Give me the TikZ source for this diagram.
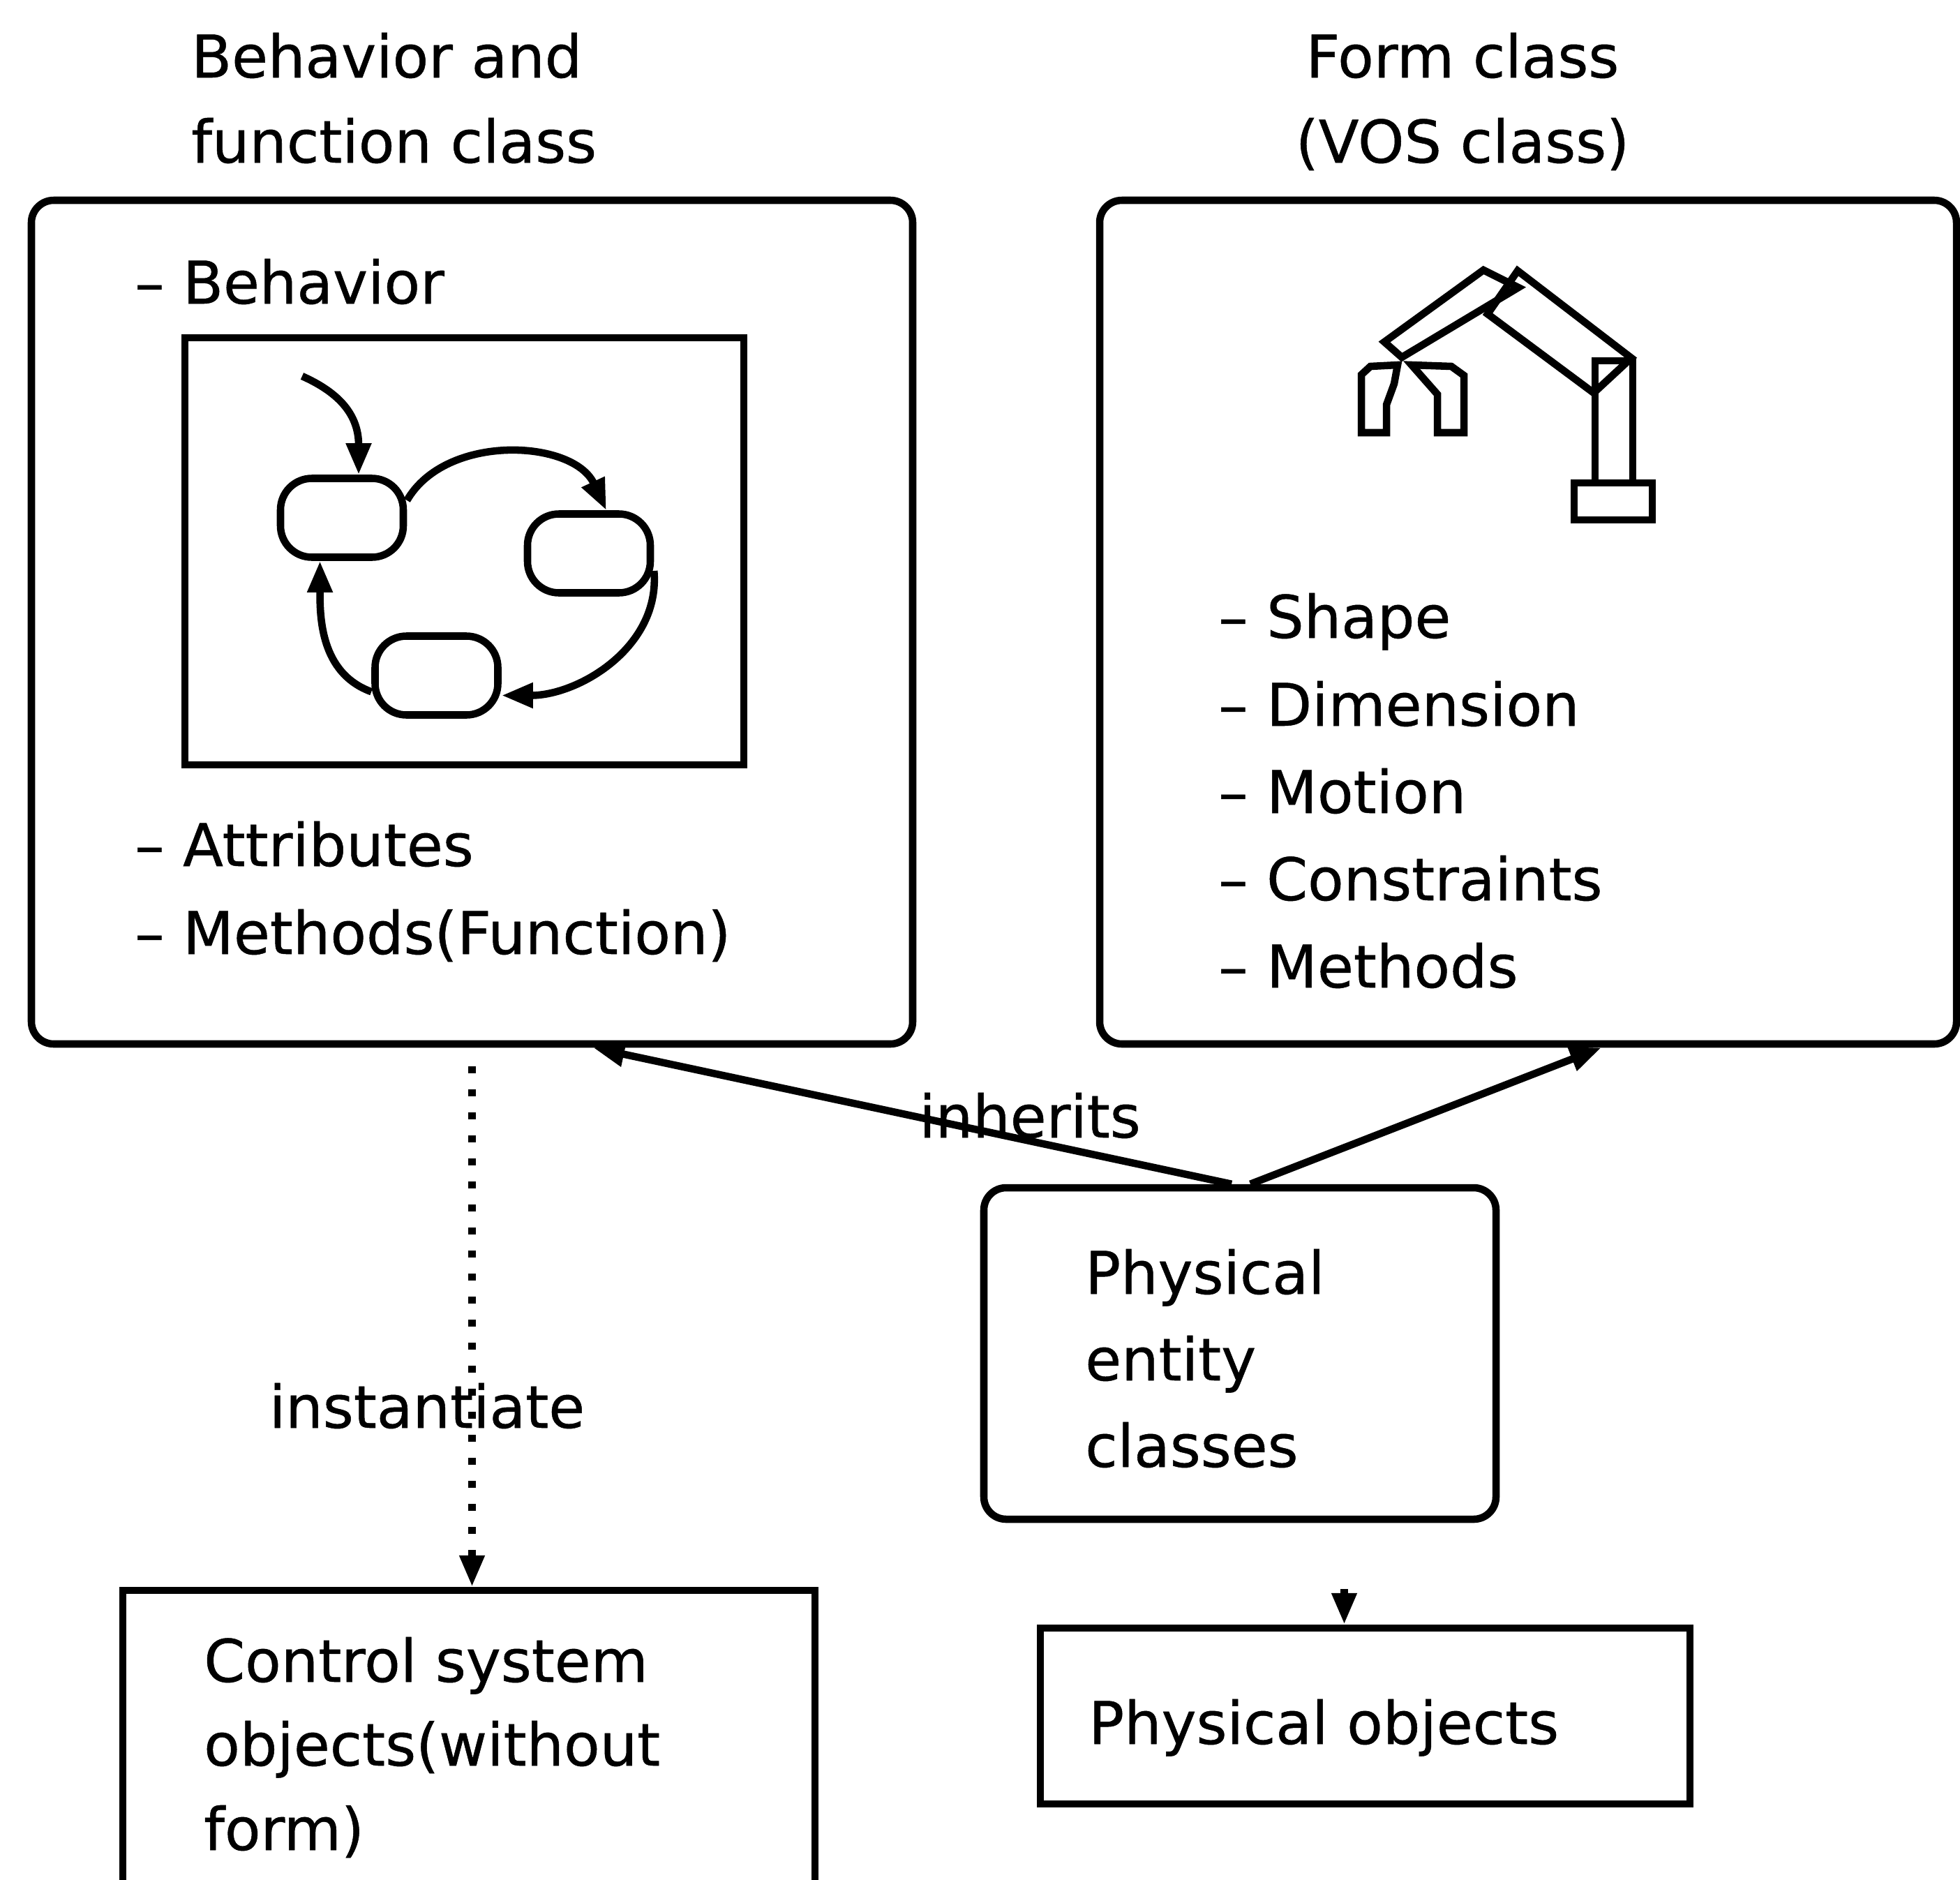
\documentclass[tikz,border=0pt]{standalone}
\usepackage{fontspec}
\setmainfont{DejaVu Sans}[FakeBold=0.6]
\usetikzlibrary{arrows.meta}

\begin{document}
\begin{tikzpicture}[
  line width=3pt,
  every node/.style={font=\fontsize{24}{34}\selectfont, inner sep=0pt},
  classbox/.style={draw, rounded corners=0.32cm},
  objbox/.style={draw},
  statebox/.style={draw, rounded corners=0.45cm, minimum width=1.76cm, minimum height=1.13cm},
  txt/.style={anchor=base west},
  arr/.style={-{Triangle[length=0.45cm,width=0.34cm]}},
  dotline/.style={dash pattern=on 0.1cm off 0.23cm}
]
\useasboundingbox (0,0) rectangle (28.09,-26.93);

\node[txt] (behtitle1) at (2.69,-1.11) {Behavior and};
\node[txt] (behtitle2) at (2.69,-2.33) {function class};
\node[anchor=base] (formtitle1) at (20.96,-1.11) {Form class};
\node[anchor=base] (formtitle2) at (20.96,-2.33) {(VOS class)};

\node[classbox, minimum width=12.63cm, minimum height=12.09cm] (behbox) at (6.765,-8.915) {};
\node[classbox, minimum width=12.28cm, minimum height=12.09cm] (formbox) at (21.90,-8.915) {};

\node[txt] (behavior) at (1.88,-4.35) {-- Behavior};
\node[txt] (attributes) at (1.88,-12.41) {-- Attributes};
\node[txt] (methods) at (1.88,-13.67) {-- Methods(Function)};

\node[draw, minimum width=8.01cm, minimum height=6.12cm] (statechart) at (6.655,-7.90) {};
\node[statebox] (s1) at (4.90,-7.42) {};
\node[statebox] (s2) at (8.44,-7.93) {};
\node[statebox] (s3) at (6.255,-9.68) {};
\coordinate (init) at (4.33,-5.39);
\draw[arr] (init) .. controls (4.8,-5.6) and (5.14,-5.9) .. ([xshift=0.24cm]s1.north);
\draw[arr] (s1.15) to[out=60,in=115] (s2.68);
\draw[arr] (s2.-15) to[out=-85,in=0] (s3.-17);
\draw[arr] (s3.194) to[out=160,in=-90] (s1.-117);

\draw (22.56,-6.92) rectangle (23.68,-7.45);
\draw (22.86,-5.17) rectangle (23.40,-6.92);
\draw (21.75,-3.88) -- (23.38,-5.13) -- (22.84,-5.63) -- (21.32,-4.50) -- cycle;
\draw (21.26,-3.87) -- (21.76,-4.12) -- (20.09,-5.12) -- (19.84,-4.90) -- cycle;
\draw (19.51,-6.20) -- (19.51,-5.37) -- (19.64,-5.25) -- (20.03,-5.23) -- (19.98,-5.50) -- (19.87,-5.80) -- (19.87,-6.20) -- cycle;
\draw (20.23,-5.23) -- (20.80,-5.25) -- (20.98,-5.38) -- (20.98,-6.20) -- (20.60,-6.20) -- (20.60,-5.65) -- cycle;

\node[txt] (shape) at (17.41,-9.14) {-- Shape};
\node[txt] (dimension) at (17.41,-10.40) {-- Dimension};
\node[txt] (motion) at (17.41,-11.65) {-- Motion};
\node[txt] (constraints) at (17.41,-12.90) {-- Constraints};
\node[txt] (formmethods) at (17.41,-14.15) {-- Methods};

\node[classbox, minimum width=7.34cm, minimum height=4.75cm] (pebox) at (17.77,-19.395) {};
\node[txt] (pe1) at (15.50,-18.54) {Physical};
\node[txt] (pe2) at (15.50,-19.78) {entity};
\node[txt] (pe3) at (15.50,-21.02) {classes};

\node[objbox, minimum width=9.92cm, minimum height=4.61cm] (ctrlbox) at (6.72,-25.095) {};
\node[txt] (ctrl1) at (2.87,-24.10) {Control system};
\node[txt] (ctrl2) at (2.87,-25.30) {objects(without};
\node[txt] (ctrl3) at (2.87,-26.51) {form)};

\node[objbox, minimum width=9.31cm, minimum height=2.52cm] (pobox) at (19.565,-24.59) {};
\node[txt] (po) at (15.55,-24.99) {Physical objects};

\draw[arr, dotline, shorten <=0.27cm] (behbox.south) -- (behbox.south |- ctrlbox.north);
\node[anchor=base] (inst) at (6.12,-20.46) {instantiate};

\draw[arr] ([xshift=-0.12cm]pebox.north) -- ([xshift=1.735cm]behbox.south);
\draw[arr] ([xshift=0.15cm]pebox.north) -- ([xshift=1.05cm]formbox.south);
\node[anchor=base] (inh) at (14.76,-16.30) {inherits};

\draw[arr, shorten <=0.95cm] ([xshift=-0.3cm]pobox.north |- pebox.south) -- ([xshift=-0.3cm]pobox.north);
\end{tikzpicture}
\end{document}
